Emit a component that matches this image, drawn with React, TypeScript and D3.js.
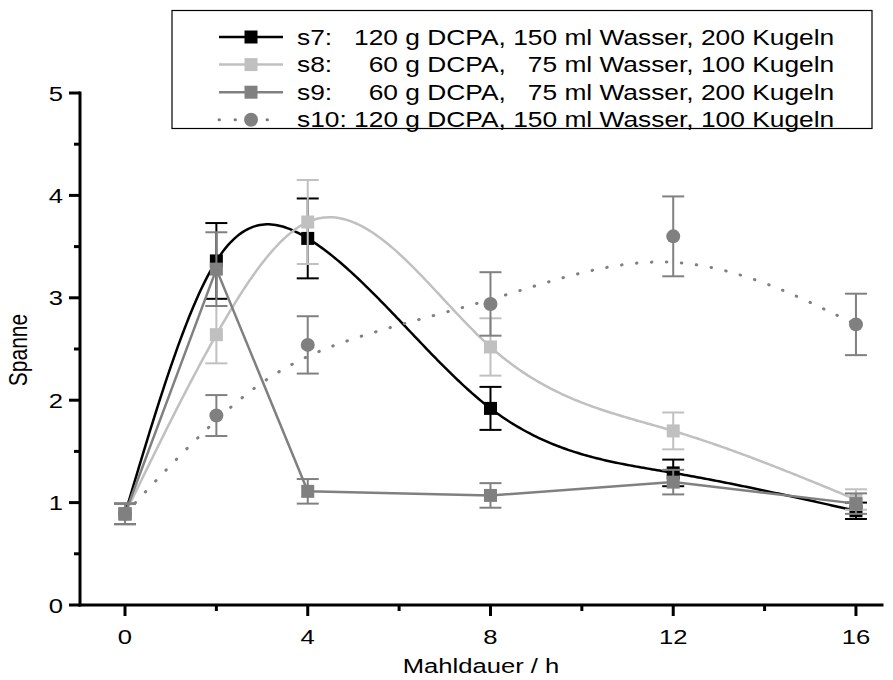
import React from 'react';
import * as d3 from 'd3';

const hours = [0, 2, 4, 8, 12, 16];
const s7Values = [0.89, 3.36, 3.58, 1.92, 1.29, 0.92];
const s7Errors = [0.1, 0.37, 0.39, 0.21, 0.13, 0.08];
const s8Values = [0.89, 2.64, 3.74, 2.52, 1.7, 1.03];
const s8Errors = [0.1, 0.28, 0.41, 0.28, 0.18, 0.1];
const s9Values = [0.89, 3.28, 1.11, 1.07, 1.2, 0.99];
const s9Errors = [0.1, 0.36, 0.12, 0.12, 0.12, 0.1];
const s10Values = [0.89, 1.85, 2.54, 2.94, 3.6, 2.74];
const s10Errors = [0.1, 0.2, 0.28, 0.31, 0.39, 0.3];

const xTicks = [0, 4, 8, 12, 16];
const xMinorTicks = [2, 6, 10, 14];
const yTicks = [0, 1, 2, 3, 4, 5];
const yMinorTicks = [0.5, 1.5, 2.5, 3.5, 4.5];

const legendLabels = [
  's7:   120 g DCPA, 150 ml Wasser, 200 Kugeln',
  's8:     60 g DCPA,   75 ml Wasser, 100 Kugeln',
  's9:     60 g DCPA,   75 ml Wasser, 200 Kugeln',
  's10: 120 g DCPA, 150 ml Wasser, 100 Kugeln',
];

const xTitle = 'Mahldauer / h';
const yTitle = 'Spanne';

type Series = {
  values: number[];
  errors: number[];
  color: string;
  marker: 'square' | 'circle';
  curve: 'spline' | 'linear' | 'bspline';
  dotted: boolean;
};

const series: Series[] = [
  { values: s7Values, errors: s7Errors, color: '#000000', marker: 'square', curve: 'spline', dotted: false },
  { values: s8Values, errors: s8Errors, color: '#c0c0c0', marker: 'square', curve: 'spline', dotted: false },
  { values: s9Values, errors: s9Errors, color: '#808080', marker: 'square', curve: 'linear', dotted: false },
  { values: s10Values, errors: s10Errors, color: '#808080', marker: 'circle', curve: 'bspline', dotted: true },
];

function naturalSpline(xs: number[], ys: number[]) {
  const n = xs.length;
  const h = xs.slice(1).map((x, i) => x - xs[i]);
  const a = new Array(n).fill(0);
  const b = new Array(n).fill(0);
  const c = new Array(n).fill(0);
  const d = new Array(n).fill(0);
  b[0] = 1;
  b[n - 1] = 1;
  for (let i = 1; i < n - 1; i++) {
    a[i] = h[i - 1];
    b[i] = 2 * (h[i - 1] + h[i]);
    c[i] = h[i];
    d[i] = 6 * ((ys[i + 1] - ys[i]) / h[i] - (ys[i] - ys[i - 1]) / h[i - 1]);
  }
  for (let i = 1; i < n; i++) {
    const m = a[i] / b[i - 1];
    b[i] -= m * c[i - 1];
    d[i] -= m * d[i - 1];
  }
  const M = new Array(n).fill(0);
  M[n - 1] = d[n - 1] / b[n - 1];
  for (let i = n - 2; i >= 0; i--) M[i] = (d[i] - c[i] * M[i + 1]) / b[i];
  return (x: number) => {
    let i = 0;
    while (i < n - 2 && x > xs[i + 1]) i++;
    const hi = h[i];
    const A = (xs[i + 1] - x) / hi;
    const B = (x - xs[i]) / hi;
    return A * ys[i] + B * ys[i + 1] + ((A ** 3 - A) * M[i] + (B ** 3 - B) * M[i + 1]) * hi * hi / 6;
  };
}

const FONT = 'Liberation Sans, Arial, sans-serif';
const STRETCH = 1.22;

function SText(props: { x: number; y: number; anchor?: string; rotate?: number; children: React.ReactNode; size?: number }) {
  const { x, y, anchor = 'start', rotate = 0, children, size = 21 } = props;
  return (
    <text
      transform={`translate(${x},${y}) scale(${STRETCH},1)${rotate ? ` rotate(${rotate})` : ''}`}
      textAnchor={anchor}
      fontSize={size}
      style={{ whiteSpace: 'pre' }}
    >
      {children}
    </text>
  );
}

export default function App() {
  const W = 893;
  const H = 680;
  const x = d3.scaleLinear().domain([-0.985, 16.57]).range([80, 882]);
  const y = d3.scaleLinear().domain([0, 5]).range([605, 93]);

  const linePath = (s: Series) => {
    if (s.curve === 'spline') {
      const f = naturalSpline(hours, s.values);
      const pts = d3.range(0, 16.0001, 0.05).map((t) => [t, f(t)] as [number, number]);
      return d3.line<[number, number]>().x((p) => x(p[0])).y((p) => y(p[1]))(pts) || '';
    }
    const pts = hours.map((h, i) => [h, s.values[i]] as [number, number]);
    return (
      d3
        .line<[number, number]>()
        .x((p) => x(p[0]))
        .y((p) => y(p[1]))
        .curve(s.curve === 'bspline' ? d3.curveBasis : d3.curveLinear)(pts) || ''
    );
  };

  const marker = (s: Series, cx: number, cy: number, key: string) =>
    s.marker === 'square' ? (
      <rect key={key} x={cx - 6.5} y={cy - 6.5} width={13} height={13} fill={s.color} />
    ) : (
      <circle key={key} cx={cx} cy={cy} r={7} fill={s.color} />
    );

  const legendX0 = 219;
  const legendX1 = 283;
  const legendTextX = 297;
  const legendRow0 = 37;
  const legendStep = 27.6;

  return (
    <svg
      width={W}
      height={H}
      style={{ position: 'absolute', left: 0, top: 0, background: '#fff' }}
      fontFamily={FONT}
    >
      <rect x={0} y={0} width={W} height={H} fill="#fff" />

      {/* series */}
      {series.map((s, si) => (
        <g key={si}>
          <path
            d={linePath(s)}
            fill="none"
            stroke={s.color}
            strokeWidth={s.dotted ? 3 : 2.5}
            strokeDasharray={s.dotted ? '0.5 14.5' : undefined}
            strokeLinecap={s.dotted ? 'round' : 'butt'}
          />
          {hours.map((h, i) => {
            const cx = x(h);
            const top = y(s.values[i] + s.errors[i]);
            const bot = y(s.values[i] - s.errors[i]);
            return (
              <g key={i} stroke={s.color} strokeWidth={2}>
                <line x1={cx} x2={cx} y1={top} y2={bot} />
                <line x1={cx - 11} x2={cx + 11} y1={top} y2={top} />
                <line x1={cx - 11} x2={cx + 11} y1={bot} y2={bot} />
              </g>
            );
          })}
          {hours.map((h, i) => marker(s, x(h), y(s.values[i]), `m${i}`))}
        </g>
      ))}

      {/* axes */}
      <g stroke="#000" strokeWidth={3} strokeLinecap="square">
        <line x1={x.range()[0]} x2={x.range()[1]} y1={605} y2={605} />
        <line x1={80} x2={80} y1={605} y2={93} />
        {xTicks.map((t) => (
          <line key={`xt${t}`} x1={x(t)} x2={x(t)} y1={605} y2={616} strokeLinecap="butt" />
        ))}
        {xMinorTicks.map((t) => (
          <line key={`xm${t}`} x1={x(t)} x2={x(t)} y1={605} y2={611} strokeLinecap="butt" />
        ))}
        {yTicks.map((t) => (
          <line key={`yt${t}`} x1={69} x2={80} y1={y(t)} y2={y(t)} strokeLinecap="butt" />
        ))}
        {yMinorTicks.map((t) => (
          <line key={`ym${t}`} x1={74} x2={80} y1={y(t)} y2={y(t)} strokeLinecap="butt" />
        ))}
      </g>
      <g fill="#000">
        {xTicks.map((t) => (
          <SText key={`xl${t}`} x={x(t)} y={644} anchor="middle">
            {t}
          </SText>
        ))}
        {yTicks.map((t) => (
          <SText key={`yl${t}`} x={63} y={y(t) + 7.5} anchor="end">
            {t}
          </SText>
        ))}
        <SText x={481} y={673} anchor="middle">
          {xTitle}
        </SText>
        <SText x={27} y={350} anchor="middle" rotate={-90}>
          {yTitle}
        </SText>
      </g>

      {/* legend */}
      <rect x={172} y={10.5} width={700} height={118} fill="#fff" stroke="#000" strokeWidth={1.2} />
      {series.map((s, i) => {
        const ly = legendRow0 + i * legendStep;
        return (
          <g key={`lg${i}`}>
            <line
              x1={legendX0}
              x2={legendX1}
              y1={ly}
              y2={ly}
              stroke={s.color}
              strokeWidth={s.dotted ? 3 : 2.5}
              strokeDasharray={s.dotted ? '0.5 15.5' : undefined}
              strokeLinecap={s.dotted ? 'round' : 'butt'}
            />
            {marker(s, (legendX0 + legendX1) / 2, ly, 'lm')}
            <SText x={legendTextX} y={ly + 7.5} size={21.6}>
              {legendLabels[i]}
            </SText>
          </g>
        );
      })}
    </svg>
  );
}
